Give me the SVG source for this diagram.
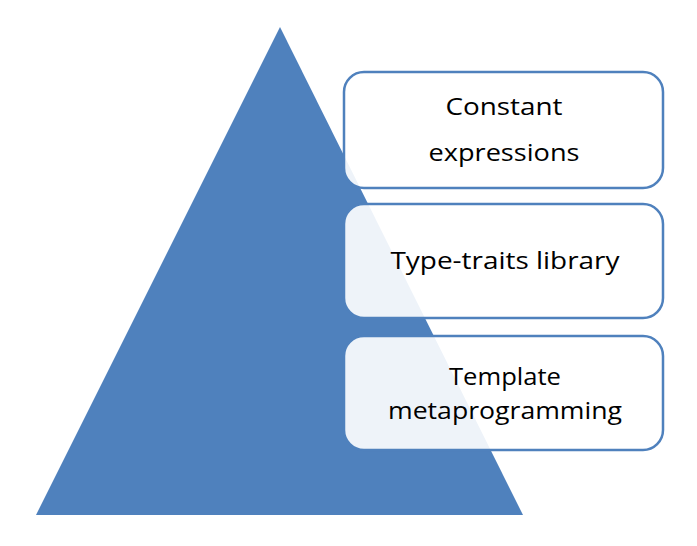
<svg xmlns="http://www.w3.org/2000/svg" width="697" height="546" viewBox="0 0 697 546">
<style>
.box{fill:#ffffff;fill-opacity:0.9;stroke:#4F81BD;stroke-width:2.5}
.t{font-family:"Open Sans","Liberation Sans",sans-serif;font-size:24px;fill:#000;text-anchor:middle}
</style>
<rect width="697" height="546" fill="#ffffff"/>
<g id="pyramid"><polygon points="280,27 36,515 523,515" fill="#4F81BD"/></g>
<g id="node1"><rect class="box" x="344" y="72" width="319" height="116" rx="20"/><text class="t" x="504" y="115" textLength="117" lengthAdjust="spacingAndGlyphs">Constant</text><text class="t" x="504" y="161" textLength="151" lengthAdjust="spacingAndGlyphs">expressions</text></g>
<g id="node2"><rect class="box" x="344" y="204" width="319" height="114" rx="20"/><text class="t" x="505" y="269" textLength="229" lengthAdjust="spacingAndGlyphs">Type-traits library</text></g>
<g id="node3"><rect class="box" x="344" y="336" width="319" height="114" rx="20"/><text class="t" x="505" y="385" textLength="112" lengthAdjust="spacingAndGlyphs">Template</text><text class="t" x="505" y="419" textLength="234" lengthAdjust="spacingAndGlyphs">metaprogramming</text></g>
<g id="connectors"></g>
</svg>
